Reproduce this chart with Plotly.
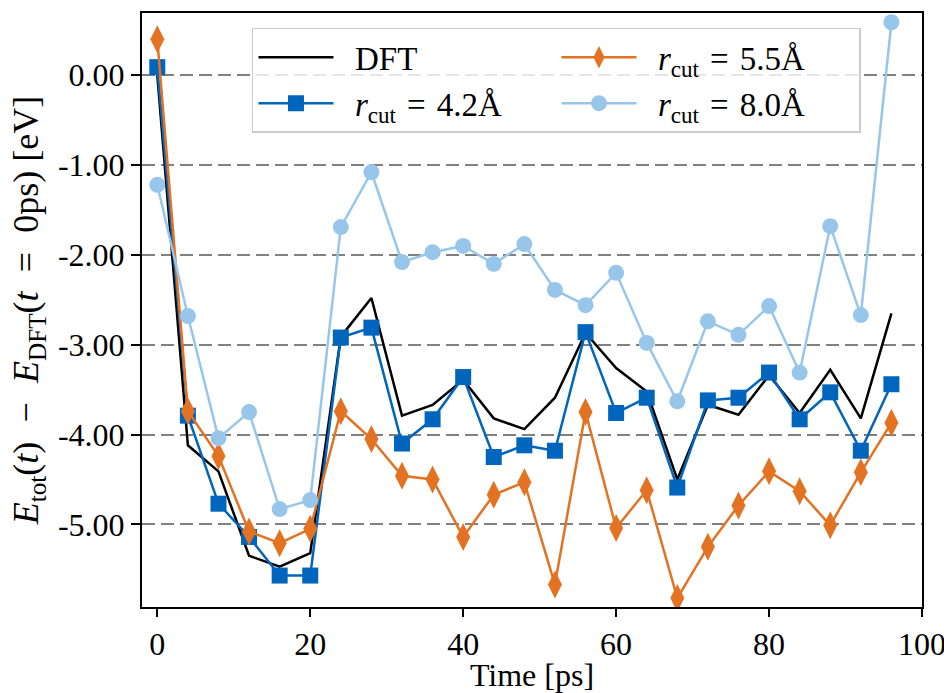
import plotly.graph_objects as go

# Sampling times of the MD trajectory [ps]
time_ps = [0, 4, 8, 12, 16, 20, 24, 28, 32, 36, 40, 44, 48,
           52, 56, 60, 64, 68, 72, 76, 80, 84, 88, 92, 96]

# Total energy relative to the DFT energy at t = 0 ps [eV]
e_dft = [0.00, -4.12, -4.41, -5.35, -5.47, -5.32, -2.91, -2.48, -3.79, -3.67,
         -3.39, -3.82, -3.94, -3.59, -2.87, -3.26, -3.52, -4.50, -3.67, -3.78,
         -3.34, -3.76, -3.28, -3.82, -2.65]
e_rcut_42 = [0.09, -3.79, -4.77, -5.14, -5.57, -5.57, -2.92, -2.81, -4.10, -3.83,
             -3.36, -4.25, -4.12, -4.18, -2.86, -3.76, -3.59, -4.59, -3.62, -3.59,
             -3.31, -3.83, -3.53, -4.18, -3.44]
e_rcut_55 = [0.40, -3.74, -4.24, -5.08, -5.21, -5.05, -3.74, -4.05, -4.46, -4.50,
             -5.14, -4.67, -4.53, -5.67, -3.75, -5.04, -4.62, -5.82, -5.25, -4.79,
             -4.41, -4.63, -5.01, -4.42, -3.87]
e_rcut_80 = [-1.22, -2.68, -4.04, -3.75, -4.83, -4.73, -1.69, -1.08, -2.08, -1.97,
             -1.90, -2.10, -1.88, -2.39, -2.56, -2.20, -2.98, -3.63, -2.74, -2.89,
             -2.57, -3.31, -1.68, -2.67, 0.59]

ytick_vals = [0, -1, -2, -3, -4, -5]
ytick_text = ["0.00", "-1.00", "-2.00", "-3.00", "-4.00", "-5.00"]
xtick_vals = [0, 20, 40, 60, 80, 100]

FONT = "Liberation Serif"
BLUE = "#0065BD"
ORANGE = "#E37222"
LIGHT = "#98C6EA"
SP = "\u2004"          # spacing around math operators
OP = "\u2004\u2009"    # slightly wider spacing in the axis title
LEAD = "\u2002"        # gap between legend sample and its label

fig = go.Figure()

fig.add_trace(go.Scatter(
    x=time_ps, y=e_dft, mode="lines", name=f"{LEAD}DFT",
    line=dict(color="black", width=2.5), legendrank=1,
))
fig.add_trace(go.Scatter(
    x=time_ps, y=e_rcut_42, mode="lines+markers",
    name=f"{LEAD}<i>r</i><sub>cut</sub>{SP}={SP}4.2Å",
    line=dict(color=BLUE, width=2.5),
    marker=dict(symbol="square", size=16, color=BLUE, line=dict(width=0)),
    legendrank=3,
))
fig.add_trace(go.Scatter(
    x=time_ps, y=e_rcut_55, mode="lines+markers",
    name=f"{LEAD}<i>r</i><sub>cut</sub>{SP}={SP}5.5Å",
    line=dict(color=ORANGE, width=2.5),
    marker=dict(symbol="diamond-tall", size=20, color=ORANGE, line=dict(width=0)),
    legendrank=2,
))
fig.add_trace(go.Scatter(
    x=time_ps, y=e_rcut_80, mode="lines+markers",
    name=f"{LEAD}<i>r</i><sub>cut</sub>{SP}={SP}8.0Å",
    line=dict(color=LIGHT, width=2.5),
    marker=dict(symbol="circle", size=16, color=LIGHT, line=dict(width=0)),
    legendrank=4,
))

ytitle = (f"<i>E</i><sub>tot</sub>(<i>t</i>){OP}−{OP}<i>E</i><sub>DFT</sub>"
          f"(<i>t</i>{OP}={OP}0ps) [eV]")

fig.update_layout(
    width=944, height=693,
    margin=dict(l=142, r=22, t=13, b=86, autoexpand=False),
    plot_bgcolor="white", paper_bgcolor="white",
    font=dict(family=FONT, color="black", size=32),
    showlegend=True,
    legend=dict(
        orientation="h", x=0.141, y=0.975, xanchor="left", yanchor="top",
        entrywidth=213, itemwidth=75, bgcolor="rgba(255,255,255,0.8)",
        bordercolor="#cccccc", borderwidth=1.5,
        font=dict(family=FONT, size=33), traceorder="normal",
    ),
    xaxis=dict(
        range=[-2, 100], tickvals=xtick_vals, ticks="outside", ticklen=8,
        tickwidth=2, tickcolor="black", showline=True, linecolor="black",
        linewidth=2, mirror=True, showgrid=False, zeroline=False,
        automargin=False, ticklabeloverflow="allow",
        tickfont=dict(family=FONT, size=32),
        title=dict(text="Time [ps]", font=dict(family=FONT, size=32), standoff=7),
    ),
    yaxis=dict(
        range=[-5.92, 0.693], tickvals=ytick_vals, ticktext=ytick_text,
        ticks="outside", ticklen=9, tickwidth=2, tickcolor="black",
        showline=True, linecolor="black", linewidth=2, mirror=True,
        showgrid=True, gridcolor="#808080", gridwidth=2, griddash="13px,6px",
        zeroline=False, automargin=False, tickfont=dict(family=FONT, size=32),
        title=dict(text=ytitle, font=dict(family=FONT, size=36), standoff=8),
    ),
)

fig.write_html("out.html")
